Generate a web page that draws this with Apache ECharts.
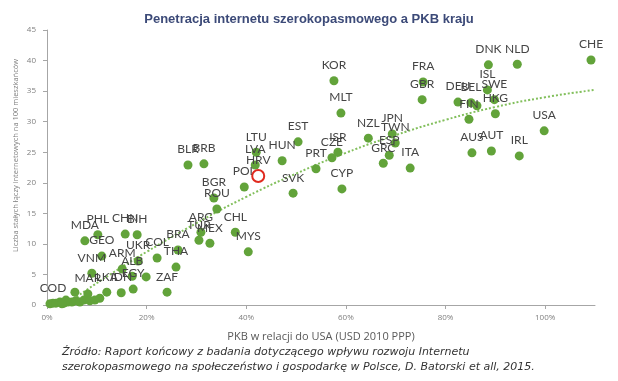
<!DOCTYPE html>
<html><head><meta charset="utf-8">
<script src="https://cdn.jsdelivr.net/npm/echarts@6/dist/echarts.min.js"></script>
<style>html,body{margin:0;padding:0;background:#fff}#c{width:618px;height:381px}</style>
</head><body><div id="c"></div>
<script>
// Country codes ('' = unlabeled point)
const countries = ['CHE','NLD','DNK','ISL','SWE','HKG','DEU','BEL','FIN','','FRA','GBR','USA','AUS','AUT','IRL',
  'KOR','MLT','NZL','JPN','TWN','ESP','GRC','ITA','ISR','CZE','PRT','CYP','EST','HUN','SVK','LTU','LVA','HRV','POL',
  'BLR','BRB','BGR','ROU','ARG','TUR','MEX','CHL','MYS','BRA','THA','COL','UKR','CHN','BIH','PHL','MDA','GEO','VNM',
  'ARM','ALB','EGY','ZAF','MAR','LKA','IDN','COD','','','','','','','','','','','','','','','',''];
// GDP per capita relative to USA (%)
const gdpPct = [109.2,94.4,88.6,88.4,89.8,90.0,82.5,85.1,84.7,86.3,75.5,75.3,99.8,85.3,89.2,94.8,
  57.6,59.0,64.5,69.3,69.9,68.7,67.5,72.9,58.4,57.2,54.0,59.2,50.4,47.2,49.4,42.0,41.8,42.4,39.6,
  28.3,31.5,33.5,34.1,30.9,30.5,32.7,37.8,40.4,26.3,25.9,22.1,18.3,15.7,18.1,10.2,7.6,11.0,9.0,
  15.1,17.1,17.3,24.1,8.2,12.0,14.9,1.2,19.9,10.6,5.6,0.6,1.8,2.6,3.4,4.2,5.0,5.8,6.6,7.4,8.6,9.6,3.8,3.0];
// Fixed broadband subscriptions per 100 inhabitants
const broadband = [40.1,39.4,39.3,35.2,33.6,31.3,33.2,33.1,30.4,32.6,36.5,33.6,28.5,24.9,25.2,24.4,
  36.7,31.4,27.3,28.0,26.5,24.5,23.2,22.4,25.0,24.1,22.3,19.0,26.7,23.6,18.3,25.0,22.9,21.1,19.3,
  22.9,23.1,17.5,15.7,11.9,10.6,10.1,11.9,8.7,9.0,6.2,7.7,7.2,11.6,11.5,11.5,10.5,8.0,5.2,
  5.9,4.7,2.6,2.1,1.8,2.1,2.0,0.3,4.6,1.1,2.1,0.2,0.3,0.5,0.3,0.5,0.5,0.7,0.5,0.8,0.7,0.8,0.8,0.2];
// Trend line
const trendX = [4,8,15,20,30,40,50,60,70,80,90,100,110];
const trendY = [0.2,2.5,6.2,8.7,13.4,17.7,21.5,24.9,27.8,30.3,32.4,34.0,35.2];
// Highlighted point (red ring)
const highlightX = [42.4];
const highlightY = [21.1];
const xTicks = ['0%','20%','40%','60%','80%','100%'];

const chart = echarts.init(document.getElementById('c'));
const pts = countries.map((n,i)=>({name:n, value:[gdpPct[i], broadband[i]]}));
chart.setOption({
  animation:false,
  title:{text:'Penetracja internetu szerokopasmowego a PKB kraju', left:'center', top:8,
    textStyle:{fontFamily:'Liberation Sans', fontWeight:'bold', fontSize:13, color:'#3c4a78'}},
  grid:{left:47, right:23, top:30, bottom:76},
  xAxis:{type:'value', min:0, max:110, interval:20,
    name:'PKB w relacji do USA (USD 2010 PPP)', nameLocation:'middle', nameGap:26,
    nameTextStyle:{fontFamily:'Open Sans', fontSize:11, color:'#595959'},
    axisLine:{show:true, lineStyle:{color:'#a6a6a6'}},
    axisTick:{show:true, length:4, lineStyle:{color:'#a6a6a6'}},
    splitLine:{show:false},
    axisLabel:{fontFamily:'Open Sans', fontSize:8, color:'#7f7f7f', margin:9, showMaxLabel:false,
      formatter:v=>{const i=v/20; return Number.isInteger(i)&&i<xTicks.length?xTicks[i]:'';}}},
  yAxis:{type:'value', min:0, max:45, interval:5,
    name:'Liczba stałych łączy internetowych na 100 mieszkańców', nameLocation:'middle', nameGap:27,
    nameMoveOverlap:false,
    nameTextStyle:{fontFamily:'Open Sans', fontSize:7.5, color:'#7f7f7f', padding:[0,0,0,24]},
    axisLine:{show:true, lineStyle:{color:'#a6a6a6'}},
    axisTick:{show:true, length:4, lineStyle:{color:'#a6a6a6'}},
    splitLine:{show:false},
    axisLabel:{fontFamily:'Open Sans', fontSize:8, color:'#7f7f7f', margin:11}},
  series:[
    {type:'line', data:trendX.map((x,i)=>[x,trendY[i]]), smooth:true, symbol:'none', z:1,
      lineStyle:{color:'#82bf5c', width:2, type:[2,2]}},
    {type:'scatter', data:pts, symbolSize:9, z:2,
      itemStyle:{color:'#62a33a', opacity:1},
      label:{show:true, position:'top', distance:5, formatter:p=>p.name,
        fontFamily:'Lato', fontSize:12, color:'#454545'}},
    {type:'scatter', data:highlightX.map((x,i)=>[x,highlightY[i]]), symbolSize:12, z:5,
      itemStyle:{color:'#ffffff', borderColor:'#e02a1f', borderWidth:2, opacity:1}}
  ],
  graphic:[{type:'text', left:62, top:345, style:{
    text:'Źródło: Raport końcowy z badania dotyczącego wpływu rozwoju Internetu\nszerokopasmowego na społeczeństwo i gospodarkę w Polsce, D. Batorski et all, 2015.',
    fontFamily:'DejaVu Sans', fontStyle:'italic', fontSize:11, lineHeight:15, fill:'#333333'}}]
});
</script></body></html>
